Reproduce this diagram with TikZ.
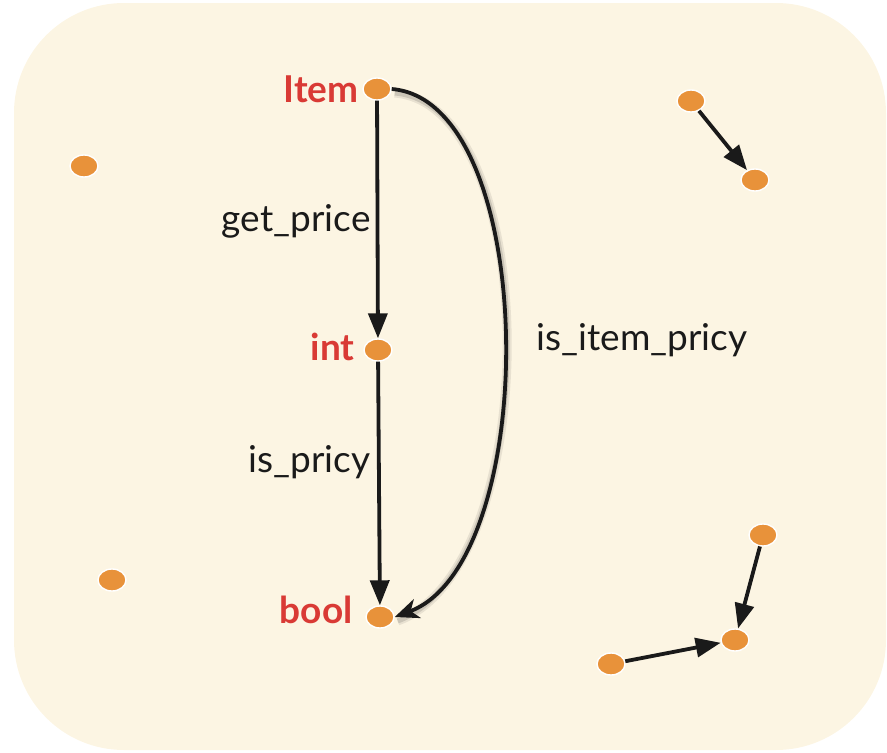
\documentclass[tikz,border=0pt]{standalone}
\usepackage{fontspec}
\setmainfont{Lato}
\usetikzlibrary{arrows.meta,shapes.geometric}

\definecolor{paper}{HTML}{FCF5E3}
\definecolor{dotorange}{HTML}{E8923A}
\definecolor{typered}{HTML}{D93A35}
\definecolor{ink}{HTML}{1A1A1A}

\tikzset{
    dot/.style={ellipse, fill=dotorange, draw=white, line width=1.4pt,
        minimum width=28pt, minimum height=22pt, inner sep=0pt},
    typelabel/.style={text=typered, anchor=east,
        font=\fontsize{37}{44}\selectfont\bfseries},
    edgelabel/.style={text=ink, font=\fontsize{37}{44}\selectfont},
    arr/.style={draw=ink, line width=3.8pt,
        -{Triangle[length=25pt,width=19pt]}},
}

\begin{document}
\begin{tikzpicture}[x=1pt,y=-1pt]
    \useasboundingbox (0,0) rectangle (887,753);
    \fill[paper, rounded corners=110pt] (14,3) rectangle (886,750);

    % the three types of the chain
    \node[dot] (item) at (377,89) {};
    \node[dot] (int) at (378,350) {};
    \node[dot] (bool) at (380,617) {};
    \node[typelabel] at (362,89) {Item};
    \node[typelabel] at (358,347) {int};
    \node[typelabel] at (356,610) {bool};

    % loose dots
    \node[dot] (la) at (84,166) {};
    \node[dot] (lb) at (112,580) {};
    \node[dot] (ra) at (691,101) {};
    \node[dot] (rb) at (755,180) {};
    \node[dot] (rc) at (763,535) {};
    \node[dot] (rd) at (735,640) {};
    \node[dot] (re) at (611,664) {};

    \draw[arr] (item) -- (int);
    \draw[arr] (int) -- (bool);
    \node[edgelabel, anchor=east] at (374,221) {get\_price};
    \node[edgelabel, anchor=east] at (374,462) {is\_pricy};

    % composed function, with its soft shadow
    \begin{scope}[transform canvas={shift={(3pt,-4pt)}}]
        \draw[black, opacity=.08, line width=9pt]
            (item.east) .. controls +(148,12) and +(148,-55) .. (bool.east);
        \draw[black, opacity=.12, line width=5pt]
            (item.east) .. controls +(148,12) and +(148,-55) .. (bool.east);
    \end{scope}
    \draw[arr, -{Stealth[length=24pt,width=20pt,inset=7pt]}]
        (item.east) .. controls +(148,12) and +(148,-55) .. (bool.east);
    \node[edgelabel, anchor=west] at (533,340) {is\_item\_pricy};

    \draw[arr] (ra) -- (rb);
    \draw[arr] (rc) -- (rd);
    \draw[arr] (re) -- (rd);
\end{tikzpicture}
\end{document}
